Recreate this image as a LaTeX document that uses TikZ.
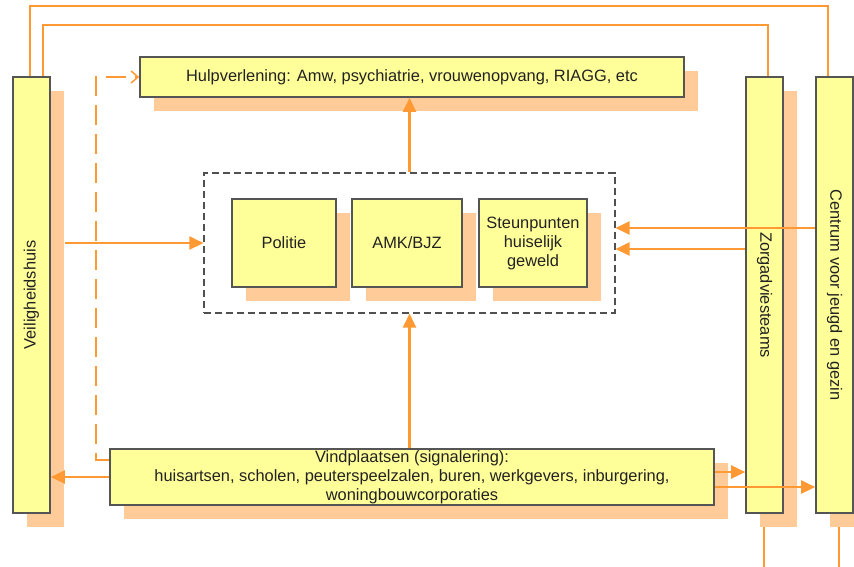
\documentclass[tikz,border=0pt]{standalone}
\usepackage{fontspec}
\usepackage{graphicx}
\setmainfont{Liberation Sans}
\usetikzlibrary{arrows.meta,shadows,fit,backgrounds}
\definecolor{boxfill}{HTML}{FFFF99}
\definecolor{boxline}{HTML}{555555}
\definecolor{shade}{HTML}{FFCC99}
\definecolor{flowc}{HTML}{FF9933}
\definecolor{grayline}{HTML}{505050}
\definecolor{txt}{HTML}{222222}
\tikzset{
  box/.style={draw=boxline, fill=boxfill, line width=1.6pt, inner sep=0pt, text=txt,
    drop shadow={shadow xshift=14pt, shadow yshift=-14pt, fill=shade, opacity=1}},
  pillar/.style={box, minimum width=37pt, minimum height=436pt},
  unit/.style={box, minimum height=88pt, align=center},
  cluster/.style={draw=grayline, line width=1.5pt, dash pattern=on 7pt off 4pt,
    inner xsep=27pt, inner ysep=25pt},
  flow/.style={draw=flowc, line width=2.5pt, -{Triangle[length=14pt,width=13pt]}},
  link/.style={draw=flowc, line width=1.7pt},
  hint/.style={draw=flowc, line width=1.5pt, dash pattern=on 20pt off 9pt,
    -{Straight Barb[length=7pt,width=12pt]}}
}
\begin{document}
\begin{tikzpicture}[x=1pt,y=-1pt,font=\fontsize{16.4}{19}\selectfont]
            \useasboundingbox (0,0) rectangle (854,566);
            \node[pillar] (veil) at (31.5,295) {\rotatebox{90}{Veiligheidshuis}};
            \node[pillar] (zorg) at (764.5,295) {\rotatebox{-90}{Zorgadviesteams}};
            \node[pillar] (cent) at (834.5,295) {\rotatebox{-90}{Centrum voor jeugd en gezin}};
            \node[box, minimum width=544pt, minimum height=40pt] (hulp) at (412,77) {Hulpverlening: Amw, psychiatrie, vrouwenopvang, RIAGG, etc};
            \node[unit, minimum width=104pt] (pol) at (284,243) {Politie};
            \node[unit, minimum width=110pt] (amk) at (407,243) {AMK/BJZ};
            \node[unit, minimum width=108pt] (steun) at (533,243) {Steunpunten\\huiselijk\\geweld};
            \node[cluster, fit=(pol)(steun)] (grp) {};
            \node[box, minimum width=604pt, minimum height=56pt, align=center] (vind) at (412,477) {Vindplaatsen (signalering):\\huisartsen, scholen, peuterspeelzalen, buren, werkgevers, inburgering,\\woningbouwcorporaties};
            \coordinate (inA) at ([yshift=15pt]grp.east);
            \coordinate (inB) at ([yshift=-6pt]grp.east);
            \coordinate (outA) at ([yshift=5pt]vind.east);
            \coordinate (outB) at ([yshift=-10pt]vind.east);
            \draw[link] ([xshift=-1.5pt]veil.north) -- ++(0,-70) -| ([xshift=-6.5pt]cent.north);
            \draw[link] ([xshift=11.5pt]veil.north) -- ++(0,-51) -| ([xshift=3.5pt]zorg.north);
            \begin{scope}[on background layer]
            \draw[link] ([xshift=-0.5pt]zorg.south) -- ++(0,60);
            \draw[link] ([xshift=4.5pt]cent.south) -- ++(0,60);
            \end{scope}
            \draw[hint] ([yshift=17pt]vind.west) -- ++(-13,0) |- (hulp.west);
            \draw[flow] (grp.north) -- (grp.north |- hulp.south);
            \draw[flow] (vind.north -| grp.south) -- (grp.south);
            \draw[flow, shorten <=14pt] (veil.east |- grp.west) -- (grp.west);
            \draw[flow] (cent.west |- inA) -- (inA);
            \draw[flow] (zorg.west |- inB) -- (inB);
            \draw[flow] (vind.west) -- (vind.west -| veil.east);
            \draw[flow] (outA) -- (outA -| zorg.west);
            \draw[flow] (outB) -- (outB -| cent.west);
        \end{tikzpicture}
\end{document}
